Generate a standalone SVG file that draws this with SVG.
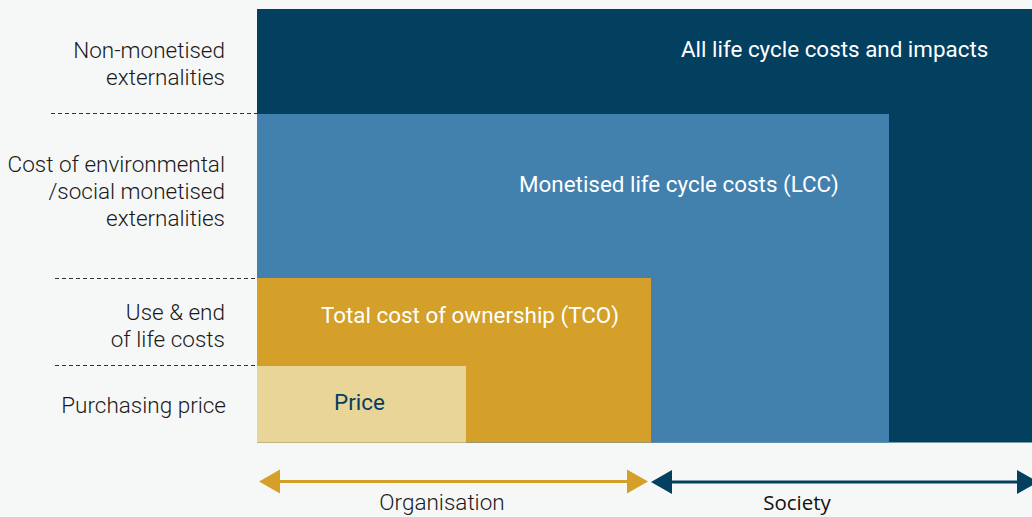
<svg xmlns="http://www.w3.org/2000/svg" width="1032" height="517" viewBox="0 0 1032 517">
<style>
.lbl{font-family:Roboto,"Liberation Sans",sans-serif;font-weight:300;font-size:22.5px;fill:#1a1a1a;text-anchor:end}
.box{font-family:Roboto,"Liberation Sans",sans-serif;font-weight:400;font-size:22.4px;fill:#ffffff}
.dash{stroke:#333;stroke-width:1;stroke-dasharray:4,3;fill:none}
</style>
<rect x="0" y="0" width="1032" height="517" fill="#f6f8f7"/>
<g id="all"><rect x="257" y="9" width="775" height="433.5" fill="#03405f"/>
<text class="box" x="681" y="57">All life cycle costs and impacts</text></g>
<g id="lcc"><rect x="257" y="114" width="632" height="328.5" fill="#4280ae"/>
<text class="box" x="519" y="192">Monetised life cycle costs (LCC)</text></g>
<g id="tco"><rect x="257" y="278" width="394" height="164.5" fill="#d4a02a"/>
<text class="box" x="321" y="323">Total cost of ownership (TCO)</text></g>
<g id="price"><rect x="257" y="366" width="209" height="76.5" fill="#e9d598"/>
<text class="box" x="334" y="410" style="fill:#03405f">Price</text></g>
<g id="labels">
<text class="lbl" x="225" y="58">Non-monetised</text>
<text class="lbl" x="225" y="85">externalities</text>
<text class="lbl" x="225" y="172">Cost of environmental</text>
<text class="lbl" x="225" y="199">/social monetised</text>
<text class="lbl" x="225" y="226">externalities</text>
<text class="lbl" x="225" y="320">Use &amp; end</text>
<text class="lbl" x="225" y="347">of life costs</text>
<text class="lbl" x="226" y="413">Purchasing price</text>
</g>
<g id="connectors">
<line class="dash" x1="51" y1="113.5" x2="257" y2="113.5"/>
<line class="dash" x1="55" y1="278.5" x2="257" y2="278.5"/>
<line class="dash" x1="55" y1="365.5" x2="257" y2="365.5"/>
<line x1="275" y1="481.5" x2="632" y2="481.5" stroke="#d4a02a" stroke-width="3"/>
<polygon points="259,481.5 280,469.5 280,493.5" fill="#d4a02a"/>
<polygon points="648,481.5 627,469.5 627,493.5" fill="#d4a02a"/>
<line x1="668" y1="482" x2="1022" y2="482" stroke="#03405f" stroke-width="3"/>
<polygon points="651,482 672,470 672,494" fill="#03405f"/>
<polygon points="1038,482 1017,470 1017,494" fill="#03405f"/>
</g>
<g id="axis-labels">
<text x="442" y="510" style="font-family:Roboto,'Liberation Sans',sans-serif;font-weight:300;font-size:22.5px;fill:#1a1a1a;text-anchor:middle">Organisation</text>
<text x="797" y="510" style="font-family:'Open Sans','Liberation Sans',sans-serif;font-weight:400;font-size:20.5px;fill:#111;text-anchor:middle">Society</text>
</g>
</svg>
